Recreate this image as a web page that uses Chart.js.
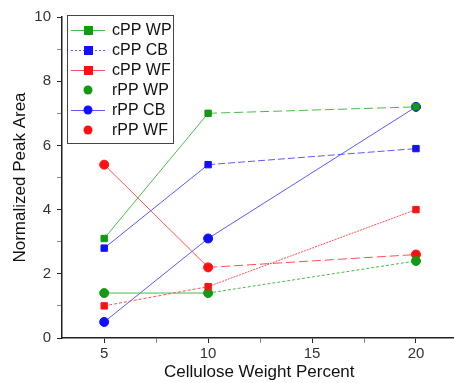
<!DOCTYPE html>
<html>
<head>
<meta charset="utf-8">
<script src="https://cdn.jsdelivr.net/npm/chart.js@4.4.1/dist/chart.umd.min.js"></script>
<style>
  html, body { margin: 0; padding: 0; background: #fff; overflow: hidden; }
  /* a bit wider than the window so the x axis runs off the right edge like the original */
  #wrap { width: 462px; height: 383px; position: relative; }
</style>
</head>
<body>
<div id="wrap"><canvas id="peakChart"></canvas></div>
<script>
// cellulose weight percent (x positions)
const weightPercent = [5, 10, 20];

// normalized peak area per sample
const cppWP = [3.1, 7.0, 7.2];
const cppCB = [2.8, 5.4, 5.9];
const cppWF = [1.0, 1.6, 4.0];
const rppWP = [1.4, 1.4, 2.4];
const rppCB = [0.5, 3.1, 7.2];
const rppWF = [5.4, 2.2, 2.6];

const seriesLabels = ['cPP WP', 'cPP CB', 'cPP WF', 'rPP WP', 'rPP CB', 'rPP WF'];

const xMajorTicks = [5, 10, 15, 20];
const xMinorTicks = [7.5, 12.5, 17.5];
const yMajorTicks = [0, 2, 4, 6, 8, 10];
const yMinorTicks = [1, 3, 5, 7, 9];

// marker colour, line colour (thin lines look lighter in the original)
const GREEN = ['#129a12', '#4cb84c'];
const BLUE = ['#1010ff', '#5a5aff'];
const RED = ['#ff1010', '#ff5050'];

function toPoints(values) {
    return weightPercent.map((x, i) => ({ x: x, y: values[i] }));
}

// dash pattern for each segment (5->10, 10->20)
function makeDataset(label, values, colors, marker, dashes, legendDash) {
    return {
        label: label,
        data: toPoints(values),
        borderColor: colors[1],
        backgroundColor: colors[0],
        pointBackgroundColor: colors[0],
        pointBorderColor: colors[0],
        borderWidth: 1,
        pointStyle: marker,
        pointRadius: 4.5,
        tension: 0,
        legendDash: legendDash,
        segment: {
            borderDash: ctx => dashes[ctx.p0DataIndex]
        }
    };
}

// legend drawn inside plot area, top left
const innerLegend = {
    id: 'innerLegend',
    afterDraw(chart) {
        const ctx = chart.ctx;
        const left = 67, top = 15, w = 106, h = 128;
        ctx.save();
        ctx.fillStyle = '#fff';
        ctx.fillRect(left, top, w, h);
        ctx.strokeStyle = '#444';
        ctx.lineWidth = 1;
        ctx.strokeRect(left + 0.5, top + 0.5, w, h);
        ctx.font = '16px "Liberation Sans", Arial, sans-serif';
        ctx.textBaseline = 'middle';
        chart.data.datasets.forEach((ds, i) => {
            const cy = top + 15 + i * 20;
            if (ds.legendDash) {
                ctx.strokeStyle = ds.borderColor;
                ctx.lineWidth = 1;
                ctx.setLineDash(ds.legendDash);
                ctx.beginPath();
                ctx.moveTo(left + 4, cy + 0.5);
                ctx.lineTo(left + 38, cy + 0.5);
                ctx.stroke();
                ctx.setLineDash([]);
            }
            ctx.fillStyle = ds.pointBackgroundColor;
            const mx = left + 21;
            if (ds.pointStyle === 'rect') {
                ctx.fillRect(mx - 4, cy - 4, 9, 9);
            } else {
                ctx.beginPath();
                ctx.arc(mx, cy, 4.5, 0, Math.PI * 2);
                ctx.fill();
            }
            ctx.fillStyle = '#111';
            ctx.fillText(ds.label, left + 45, cy + 1);
        });
        ctx.restore();
    }
};

function createPeakChart() {
    const el = document.getElementById('peakChart');
    if (!el) return;
    const ctx = el.getContext('2d');

    const datasets = [
        makeDataset(seriesLabels[0], cppWP, GREEN, 'rect', [[], [9, 4]], []),
        makeDataset(seriesLabels[1], cppCB, BLUE, 'rect', [[], [7, 3]], [2, 2]),
        makeDataset(seriesLabels[2], cppWF, RED, 'rect', [[3, 2], [2, 1]], []),
        makeDataset(seriesLabels[3], rppWP, GREEN, 'circle', [[], [3, 2]], null),
        makeDataset(seriesLabels[4], rppCB, BLUE, 'circle', [[], []], []),
        makeDataset(seriesLabels[5], rppWF, RED, 'circle', [[], [9, 4]], null)
    ];

    const tickFont = { family: '"Liberation Sans", Arial, sans-serif', size: 15 };
    const titleFont = { family: '"Liberation Sans", Arial, sans-serif', size: 17 };

    new Chart(ctx, {
        type: 'line',
        data: { datasets: datasets },
        options: {
            responsive: true,
            maintainAspectRatio: false,
            animation: false,
            layout: { padding: { top: 17, right: 0, left: 0, bottom: 0 } },
            plugins: {
                legend: { display: false },
                tooltip: { enabled: false }
            },
            scales: {
                x: {
                    type: 'linear',
                    min: 2.97,
                    max: 21.95,
                    afterBuildTicks: axis => {
                        axis.ticks = xMajorTicks.concat(xMinorTicks).sort((a, b) => a - b).map(v => ({ value: v }));
                    },
                    afterFit: axis => { axis.height = 45; },
                    ticks: {
                        color: '#333',
                        font: tickFont,
                        padding: 2,
                        maxRotation: 0,
                        autoSkip: false,
                        callback: v => xMajorTicks.includes(v) ? String(v) : ''
                    },
                    grid: {
                        drawOnChartArea: false,
                        drawTicks: true,
                        tickLength: 5,
                        tickColor: c => (c.tick && xMajorTicks.includes(c.tick.value)) ? '#222' : '#888'
                    },
                    border: { color: '#222', width: 1.5 },
                    title: {
                        display: true,
                        text: 'Cellulose Weight Percent',
                        color: '#111',
                        font: titleFont,
                        padding: { top: 0, bottom: 0 }
                    }
                },
                y: {
                    min: 0,
                    max: 10,
                    afterBuildTicks: axis => {
                        axis.ticks = yMajorTicks.concat(yMinorTicks).sort((a, b) => a - b).map(v => ({ value: v }));
                    },
                    afterFit: axis => { axis.width = 62; },
                    ticks: {
                        color: '#333',
                        font: tickFont,
                        padding: 6,
                        autoSkip: false,
                        callback: v => yMajorTicks.includes(v) ? String(v) : ''
                    },
                    grid: {
                        drawOnChartArea: false,
                        drawTicks: true,
                        tickLength: 5,
                        tickColor: c => (c.tick && yMajorTicks.includes(c.tick.value)) ? '#222' : '#888'
                    },
                    border: { color: '#222', width: 1.5 },
                    title: {
                        display: true,
                        text: 'Normalized Peak Area',
                        color: '#111',
                        font: titleFont,
                        padding: { top: 10, bottom: 0 }
                    }
                }
            }
        },
        plugins: [innerLegend]
    });
}

document.addEventListener('DOMContentLoaded', createPeakChart);
</script>
</body>
</html>
